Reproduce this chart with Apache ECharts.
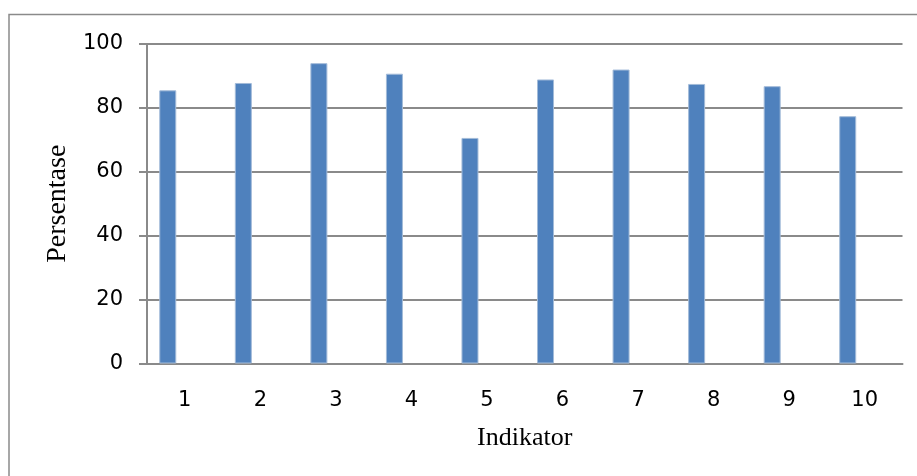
<!DOCTYPE html>
<html>
<head>
<meta charset="utf-8">
<script src="https://cdn.jsdelivr.net/npm/echarts@6/dist/echarts.min.js"></script>
<style>
  html, body { margin: 0; padding: 0; background: #fff; }
  #chart { width: 917px; height: 476px; }
</style>
</head>
<body>
<div id="chart"></div>
<script>
// indikator 1..10
const categories = ['1', '2', '3', '4', '5', '6', '7', '8', '9', '10'];
const persentase = [85.5, 87.8, 94.0, 90.7, 70.6, 88.9, 92.0, 87.5, 86.8, 77.4];
// two empty series, the original chart reserves space for them
const emptySeries = categories.map(() => null);
const yTicks = [0, 20, 40, 60, 80, 100];

const chart = echarts.init(document.getElementById('chart'));

const gray = '#8a8a8a';
const barColor = '#4f81bd';

const option = {
  animation: false,
  graphic: [
    {
      type: 'rect',
      shape: { x: 9, y: 14.5, width: 1000, height: 1000 },
      style: { fill: 'none', stroke: gray, lineWidth: 1.5 }
    }
  ],
  grid: {
    left: 147,
    right: 14.5,
    top: 44,
    bottom: 112.5
  },
  xAxis: {
    type: 'category',
    data: categories,
    name: 'Indikator',
    nameLocation: 'middle',
    nameGap: 62,
    nameTextStyle: { fontFamily: 'Liberation Serif', fontSize: 26, color: '#000' },
    axisLine: { lineStyle: { color: gray, width: 2 } },
    axisTick: { length: 8, lineStyle: { color: gray, width: 2 } },
    axisLabel: { margin: 27, fontFamily: 'DejaVu Sans', fontSize: 21, color: '#000' }
  },
  yAxis: {
    type: 'value',
    min: yTicks[0],
    max: yTicks[yTicks.length - 1],
    interval: 20,
    name: 'Persentase',
    nameLocation: 'middle',
    nameGap: 75,
    nameRotate: 90,
    nameTextStyle: { fontFamily: 'Liberation Serif', fontSize: 28, color: '#000' },
    axisLine: { show: true, lineStyle: { color: gray, width: 2 } },
    axisTick: { show: true, length: 8, lineStyle: { color: gray, width: 2 } },
    axisLabel: { margin: 24, fontFamily: 'DejaVu Sans', fontSize: 21, color: '#000' },
    splitLine: { lineStyle: { color: gray, width: 2 } }
  },
  series: [
    {
      name: 'Persentase',
      type: 'bar',
      data: persentase,
      barWidth: 17,
      barGap: '0%',
      itemStyle: { color: barColor, borderColor: '#a3bbd9', borderWidth: 1 }
    },
    { name: 's2', type: 'bar', data: emptySeries, barWidth: 17, barGap: '0%' },
    { name: 's3', type: 'bar', data: emptySeries, barWidth: 17, barGap: '0%' }
  ]
};

chart.setOption(option);
</script>
</body>
</html>
